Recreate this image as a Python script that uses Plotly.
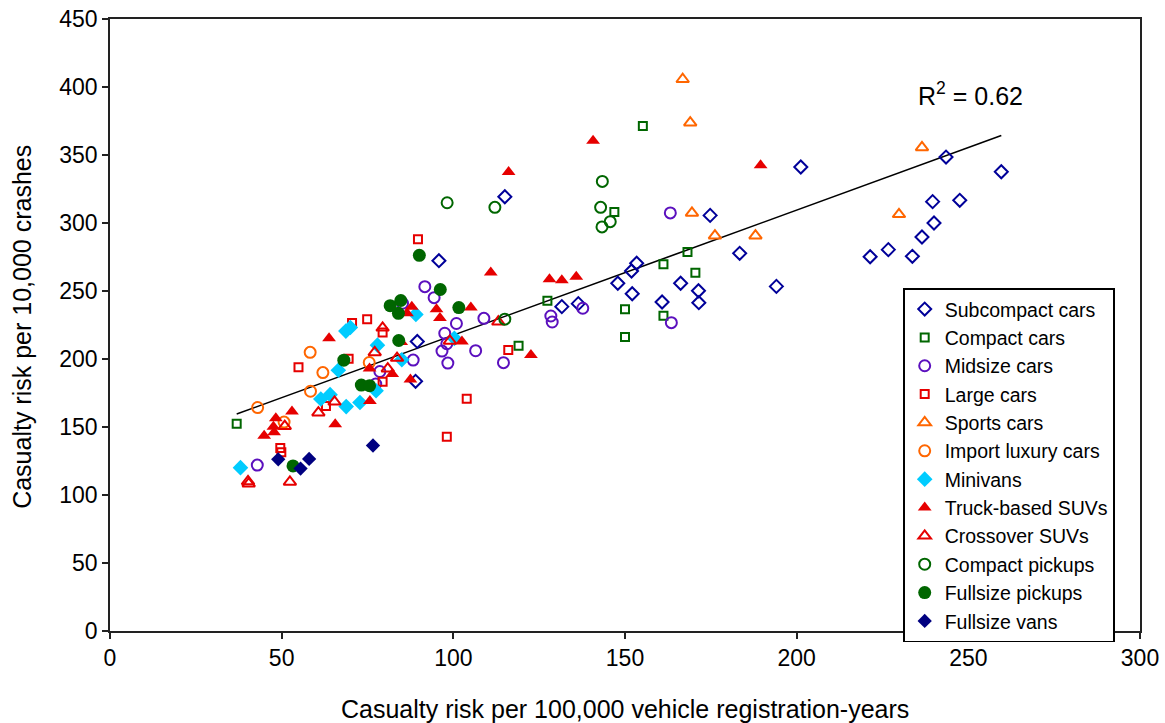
import numpy as np
import plotly.graph_objects as go

# ---- data (x: casualty risk per 100,000 registration-years, y: per 10,000 crashes)
subcompact_x = [89.0, 89.5, 95.8, 115.0, 131.6, 136.4, 147.9, 151.9, 153.4, 152.1, 160.8, 166.2, 171.4, 171.5,
                174.8, 183.4, 194.1, 201.2, 221.4, 226.7, 233.7, 236.5, 240.0, 239.6, 247.5, 243.5, 259.6]
subcompact_y = [183.6, 212.9, 272.3, 319.3, 238.5, 240.7, 255.7, 264.7, 270.4, 248.0, 241.9, 255.7, 250.2, 241.4,
                305.6, 277.7, 253.4, 341.2, 275.2, 280.4, 275.5, 289.7, 300.0, 315.7, 316.7, 348.5, 337.7]

compact_x = [36.9, 119.0, 127.4, 146.9, 150.0, 150.0, 155.2, 161.2, 161.2, 168.2, 170.5]
compact_y = [152.3, 209.8, 242.9, 308.1, 236.5, 216.2, 371.3, 269.6, 231.8, 278.7, 263.5]

midsize_x = [42.9, 77.4, 78.6, 88.3, 85.2, 91.7, 94.4, 100.9, 97.5, 98.1, 96.7, 98.4, 106.5, 108.9,
             114.6, 128.4, 128.8, 137.7, 163.5, 163.2]
midsize_y = [122.0, 181.6, 190.8, 199.2, 241.0, 253.2, 245.1, 226.1, 218.9, 211.2, 205.8, 197.0, 206.1, 229.9,
             197.3, 231.6, 227.2, 237.3, 226.7, 307.4]

large_x = [49.6, 49.9, 54.9, 62.9, 69.5, 70.5, 74.9, 79.4, 79.4, 89.7, 98.1, 103.9, 116.0]
large_y = [134.5, 131.5, 193.9, 165.4, 200.2, 226.4, 229.3, 219.4, 183.3, 288.0, 142.9, 170.8, 206.7]

sports_x = [166.8, 169.0, 169.5, 176.2, 188.0, 229.8, 236.5]
sports_y = [405.7, 373.8, 307.4, 290.7, 290.7, 306.4, 355.6]

luxury_x = [43.0, 50.7, 58.4, 62.0, 58.3, 75.5]
luxury_y = [164.3, 153.6, 176.3, 190.0, 204.9, 197.4]

minivan_x = [38.0, 61.4, 64.1, 66.5, 68.8, 68.7, 70.0, 72.8, 77.5, 77.9, 85.0, 89.1, 100.3]
minivan_y = [120.1, 170.6, 173.8, 191.7, 165.0, 220.5, 223.2, 168.0, 176.7, 210.2, 199.5, 232.8, 215.2]

truck_suv_x = [44.9, 47.8, 47.6, 48.3, 53.0, 63.8, 65.6, 75.7, 75.6, 82.2, 87.5, 84.8, 86.5, 87.9,
               95.1, 96.1, 102.5, 105.1, 110.9, 116.1, 122.6, 128.0, 131.6, 135.8, 140.7, 189.5]
truck_suv_y = [143.5, 146.1, 150.2, 156.4, 161.4, 215.2, 152.1, 169.1, 193.1, 189.0, 185.0, 212.5, 233.6, 238.5,
               236.6, 230.1, 212.9, 237.8, 263.6, 337.5, 202.9, 258.6, 257.9, 260.5, 360.5, 342.4]

crossover_x = [40.2, 40.4, 50.9, 52.4, 60.7, 65.4, 77.1, 79.4, 80.9, 83.6, 99.0, 113.1]
crossover_y = [110.0, 108.3, 150.6, 109.6, 160.5, 168.5, 204.8, 222.9, 192.9, 200.7, 213.3, 227.4]

cpickup_x = [98.2, 112.1, 143.4, 142.9, 143.3, 145.7, 115.0]
cpickup_y = [314.9, 311.5, 330.6, 311.5, 297.1, 301.0, 229.3]

fpickup_x = [90.1, 96.2, 81.6, 84.7, 84.0, 101.6, 84.1, 68.1, 73.2, 75.6, 53.3]
fpickup_y = [276.2, 251.1, 239.2, 243.0, 233.6, 237.8, 213.6, 199.1, 180.8, 180.4, 121.4]

fvan_x = [49.0, 55.5, 58.0, 76.6]
fvan_y = [126.2, 119.4, 126.5, 136.4]

x_ticks = [0, 50, 100, 150, 200, 250, 300]
y_ticks = [0, 50, 100, 150, 200, 250, 300, 350, 400, 450]
x_title = "Casualty risk per 100,000 vehicle registration-years"
y_title = "Casualty risk per 10,000 crashes"
r2_label = "R<sup>2</sup> = 0.62"

series = [
    ("Subcompact cars", subcompact_x, subcompact_y, "diamond-open", "#000099", 10),
    ("Compact cars", compact_x, compact_y, "square-open", "#006600", 8),
    ("Midsize cars", midsize_x, midsize_y, "circle-open", "#5B10BE", 11),
    ("Large cars", large_x, large_y, "square-open", "#E60000", 8),
    ("Sports cars", sports_x, sports_y, "triangle-up-open", "#FF6600", 11),
    ("Import luxury cars", luxury_x, luxury_y, "circle-open", "#FF6600", 11),
    ("Minivans", minivan_x, minivan_y, "diamond", "#00CCFF", 12),
    ("Truck-based SUVs", truck_suv_x, truck_suv_y, "triangle-up", "#E60000", 12),
    ("Crossover SUVs", crossover_x, crossover_y, "triangle-up-open", "#E60000", 11),
    ("Compact pickups", cpickup_x, cpickup_y, "circle-open", "#006600", 11),
    ("Fullsize pickups", fpickup_x, fpickup_y, "circle", "#006600", 13),
    ("Fullsize vans", fvan_x, fvan_y, "diamond", "#000080", 11),
]

fig = go.Figure()

# trend line (least squares over all points)
all_x = np.concatenate([np.array(s[1]) for s in series])
all_y = np.concatenate([np.array(s[2]) for s in series])
slope, intercept = np.polyfit(all_x, all_y, 1)
tx = np.array([all_x.min(), all_x.max()])
fig.add_trace(go.Scatter(x=tx, y=slope * tx + intercept, mode="lines",
                         line=dict(color="black", width=1.6), showlegend=False, hoverinfo="skip"))

for name, xs, ys, sym, col, size in series:
    open_ = sym.endswith("open")
    fig.add_trace(go.Scatter(
        x=xs, y=ys, mode="markers", name=name,
        marker=dict(symbol=sym, size=size, color=col,
                    line=dict(color=col, width=2 if open_ else 0)),
    ))

fig.add_annotation(x=250.5, y=395, xref="x", yref="y", text=r2_label, showarrow=False,
                   font=dict(size=25, color="black"))
fig.add_annotation(x=0.5, y=-0.1275, xref="paper", yref="paper", text=x_title, showarrow=False,
                   xanchor="center", yanchor="middle", font=dict(size=25, color="black"))
fig.add_annotation(x=-0.0854, y=0.497, xref="paper", yref="paper", text=y_title, showarrow=False,
                   textangle=-90, xanchor="center", yanchor="middle", font=dict(size=25, color="black"))

axis_common = dict(showgrid=False, zeroline=False, showline=True, linecolor="#222", linewidth=1.6,
                   mirror=True, ticks="outside", ticklen=6, tickcolor="#222", tickwidth=1.5,
                   tickfont=dict(size=23, color="black"), automargin=False)

fig.update_layout(
    width=1165, height=723,
    margin=dict(l=110, r=25, t=19, b=92),
    paper_bgcolor="white", plot_bgcolor="white",
    font=dict(family="Liberation Sans, Arial, sans-serif", color="black"),
    xaxis=dict(range=[0, 300], tickvals=x_ticks, **axis_common),
    yaxis=dict(range=[0, 450], tickvals=y_ticks, **axis_common),
    legend=dict(x=0.770, y=0.560, xanchor="left", yanchor="top",
                bordercolor="black", borderwidth=1.6, bgcolor="white",
                font=dict(size=19.5, color="black"), tracegroupgap=0),
)

fig.write_html("out.html")
